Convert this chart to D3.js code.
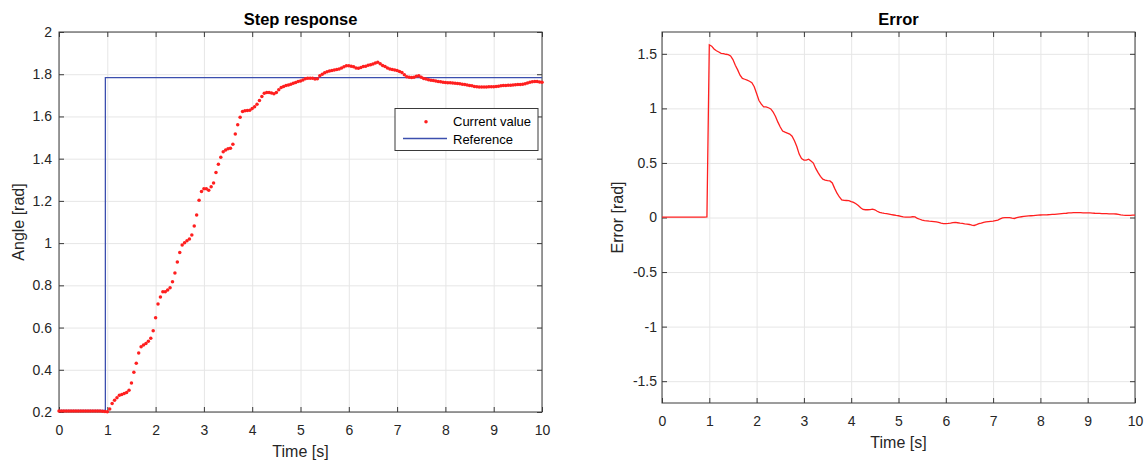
<!DOCTYPE html>
<html><head><meta charset="utf-8">
<script src="https://cdn.jsdelivr.net/npm/d3@7"></script>
<style>
body{margin:0;background:#fff}
svg{display:block}
text{font-family:"Liberation Sans",Arial,Helvetica,sans-serif}
</style>
</head><body>
<svg id="chart" width="1146" height="464"></svg>
<script>
// ---- data ----
const SAMPLE_PERIOD = 0.05; // seconds between samples, t = 0 .. 10
const currentValue = [
0.205,0.205,0.205,0.205,0.205,0.205,0.205,0.205,0.205,0.205,
0.205,0.205,0.205,0.205,0.205,0.205,0.205,0.205,0.204,0.202,
0.201,0.214,0.240,0.256,0.267,0.279,0.283,0.288,0.292,0.303,
0.337,0.388,0.431,0.480,0.509,0.517,0.525,0.535,0.549,0.585,
0.647,0.712,0.745,0.770,0.770,0.778,0.789,0.817,0.858,0.910,
0.955,0.991,1.002,1.011,1.020,1.039,1.081,1.133,1.203,1.244,
1.258,1.258,1.250,1.267,1.285,1.334,1.373,1.407,1.433,1.441,
1.447,1.449,1.468,1.517,1.561,1.596,1.623,1.627,1.628,1.629,
1.638,1.646,1.658,1.675,1.694,1.710,1.713,1.713,1.711,1.708,
1.713,1.727,1.737,1.742,1.746,1.749,1.753,1.757,1.761,1.765,
1.768,1.773,1.779,1.781,1.781,1.781,1.777,1.778,1.793,1.800,
1.807,1.812,1.815,1.818,1.820,1.822,1.825,1.829,1.835,1.840,
1.840,1.838,1.835,1.830,1.828,1.832,1.836,1.838,1.842,1.845,
1.848,1.853,1.857,1.850,1.841,1.836,1.829,1.825,1.822,1.820,
1.818,1.813,1.808,1.797,1.788,1.786,1.785,1.786,1.790,1.793,
1.786,1.780,1.777,1.774,1.772,1.770,1.768,1.766,1.764,1.762,
1.761,1.760,1.760,1.759,1.757,1.756,1.755,1.753,1.751,1.749,
1.747,1.745,1.742,1.741,1.740,1.740,1.740,1.740,1.741,1.741,
1.741,1.742,1.743,1.745,1.746,1.747,1.748,1.748,1.749,1.750,
1.751,1.751,1.752,1.755,1.759,1.762,1.764,1.765,1.765,1.763,
1.762];
const errorValue = [
0.003,0.003,0.003,0.003,0.003,0.003,0.003,0.003,0.003,0.003,
0.003,0.003,0.003,0.003,0.003,0.003,0.003,0.003,0.004,0.006,
1.583,1.570,1.544,1.528,1.517,1.505,1.501,1.496,1.492,1.481,
1.447,1.396,1.353,1.304,1.275,1.267,1.259,1.249,1.235,1.199,
1.137,1.072,1.039,1.014,1.014,1.006,0.995,0.967,0.926,0.874,
0.829,0.793,0.782,0.773,0.764,0.745,0.703,0.651,0.581,0.540,
0.526,0.526,0.534,0.517,0.499,0.450,0.411,0.377,0.351,0.343,
0.337,0.335,0.316,0.267,0.223,0.188,0.161,0.157,0.156,0.155,
0.146,0.138,0.126,0.109,0.090,0.074,0.071,0.071,0.073,0.076,
0.071,0.057,0.047,0.042,0.038,0.035,0.031,0.027,0.023,0.019,
0.016,0.011,0.005,0.003,0.003,0.003,0.007,0.006,-0.009,-0.016,
-0.023,-0.028,-0.031,-0.034,-0.036,-0.038,-0.041,-0.045,-0.051,-0.056,
-0.056,-0.054,-0.051,-0.046,-0.044,-0.048,-0.052,-0.054,-0.058,-0.061,
-0.064,-0.069,-0.073,-0.066,-0.057,-0.052,-0.045,-0.041,-0.038,-0.036,
-0.034,-0.029,-0.024,-0.013,-0.004,-0.002,-0.001,-0.002,-0.006,-0.009,
-0.002,0.004,0.007,0.010,0.012,0.014,0.016,0.018,0.020,0.022,
0.023,0.024,0.024,0.025,0.027,0.028,0.029,0.031,0.033,0.035,
0.037,0.039,0.042,0.043,0.044,0.044,0.044,0.044,0.043,0.043,
0.043,0.042,0.041,0.039,0.038,0.037,0.036,0.036,0.035,0.034,
0.033,0.033,0.032,0.029,0.025,0.022,0.020,0.019,0.019,0.021,
0.022];
const refTime  = [0, 0.96, 0.96, 10];
const refValue = [0.208, 0.208, 1.784, 1.784];
const timeTicks  = [0,1,2,3,4,5,6,7,8,9,10];
const angleTicks = [0.2,0.4,0.6,0.8,1,1.2,1.4,1.6,1.8,2];
const errorTicks = [-1.5,-1,-0.5,0,0.5,1,1.5];
const legendLabels = ["Current value","Reference"];
const titles = ["Step response","Error"];

// ---- styles ----
const RED = "#ff1f1f", BLUE = "#3c4fae", AXIS = "#3a3a3a", GRID = "#e6e6e6", TXT = "#262626";

const svg = d3.select("#chart");
const fmt = d => String(d).replace("\u2212","-");

function panel(box, yDomain, yTicks, yPad, title, yLabel, yLabelX, xLabelY){
  const g = svg.append("g");
  const x = d3.scaleLinear().domain([0,10]).range([box.x0, box.x1]);
  const y = d3.scaleLinear().domain(yDomain).range([box.y1, box.y0]);
  const w = box.x1 - box.x0, h = box.y1 - box.y0;

  // grid
  g.append("g").attr("transform",`translate(0,${box.y1})`)
    .call(d3.axisBottom(x).tickValues(timeTicks).tickSize(-h).tickFormat(""))
    .call(a=>{a.select(".domain").remove(); a.selectAll("line").attr("stroke",GRID);});
  g.append("g").attr("transform",`translate(${box.x0},0)`)
    .call(d3.axisLeft(y).tickValues(yTicks).tickSize(-w).tickFormat(""))
    .call(a=>{a.select(".domain").remove(); a.selectAll("line").attr("stroke",GRID);});

  // tick axes (inward ticks on all sides)
  const styleAx = a => {
    a.select(".domain").remove();
    a.selectAll("line").attr("stroke",AXIS);
    a.selectAll("text").attr("fill",TXT).style("font-size","14px")
      .style("font-family",'"Liberation Sans",Arial,sans-serif');
  };
  g.append("g").attr("transform",`translate(0,${box.y1})`)
    .call(d3.axisBottom(x).tickValues(timeTicks).tickSizeInner(-5).tickSizeOuter(0).tickPadding(13).tickFormat(fmt)).call(styleAx);
  g.append("g").attr("transform",`translate(0,${box.y0})`)
    .call(d3.axisTop(x).tickValues(timeTicks).tickSizeInner(-5).tickSizeOuter(0).tickFormat("")).call(styleAx);
  g.append("g").attr("transform",`translate(${box.x0},0)`)
    .call(d3.axisLeft(y).tickValues(yTicks).tickSizeInner(-5).tickSizeOuter(0).tickPadding(yPad).tickFormat(fmt)).call(styleAx);
  g.append("g").attr("transform",`translate(${box.x1},0)`)
    .call(d3.axisRight(y).tickValues(yTicks).tickSizeInner(-5).tickSizeOuter(0).tickFormat("")).call(styleAx);

  // box
  g.append("rect").attr("x",box.x0).attr("y",box.y0).attr("width",w).attr("height",h)
    .attr("fill","none").attr("stroke",AXIS).attr("stroke-width",1);

  // title & labels
  svg.append("text").attr("x",(box.x0+box.x1)/2).attr("y",25).attr("text-anchor","middle")
    .attr("font-weight","bold").style("font-size","16.5px").attr("fill","#000").text(title);
  svg.append("text").attr("x",(box.x0+box.x1)/2).attr("y",xLabelY).attr("text-anchor","middle")
    .style("font-size","16px").attr("fill",TXT).text("Time [s]");
  svg.append("text").attr("transform",`translate(${yLabelX},${(box.y0+box.y1)/2}) rotate(-90)`)
    .attr("text-anchor","middle").style("font-size","16px").attr("fill",TXT).text(yLabel);
  return {g,x,y};
}

// left panel
const L = panel({x0:59,x1:542,y0:32,y1:412},[0.2,2],angleTicks,7,titles[0],"Angle [rad]",24,456.5);
L.g.append("path").datum(refTime.map((t,i)=>[t,refValue[i]]))
  .attr("fill","none").attr("stroke",BLUE).attr("stroke-width",1.3)
  .attr("d",d3.line().x(d=>L.x(d[0])).y(d=>L.y(d[1])));
L.g.append("g").selectAll("circle").data(currentValue).join("circle")
  .attr("cx",(d,i)=>L.x(i*SAMPLE_PERIOD)).attr("cy",d=>L.y(d)).attr("r",1.75).attr("fill",RED);

// legend
const lg = L.g.append("g");
lg.append("rect").attr("x",395).attr("y",108.5).attr("width",143).attr("height",42)
  .attr("fill","#fff").attr("stroke",AXIS).attr("stroke-width",1);
lg.append("circle").attr("cx",426).attr("cy",121.7).attr("r",1.75).attr("fill",RED);
lg.append("line").attr("x1",403).attr("x2",447).attr("y1",138.5).attr("y2",138.5)
  .attr("stroke",BLUE).attr("stroke-width",1.3);
lg.append("text").attr("x",453).attr("y",126).style("font-size","13px").attr("fill","#000").text(legendLabels[0]);
lg.append("text").attr("x",453).attr("y",143.5).style("font-size","13px").attr("fill","#000").text(legendLabels[1]);

// right panel
const R = panel({x0:662,x1:1135,y0:32,y1:403},[-1.7,1.7],errorTicks,5,titles[1],"Error [rad]",623,448);
R.g.append("path").datum(errorValue)
  .attr("fill","none").attr("stroke",RED).attr("stroke-width",1.3)
  .attr("d",d3.line().x((d,i)=>R.x(i*SAMPLE_PERIOD)).y(d=>R.y(d)));
</script>
</body></html>
